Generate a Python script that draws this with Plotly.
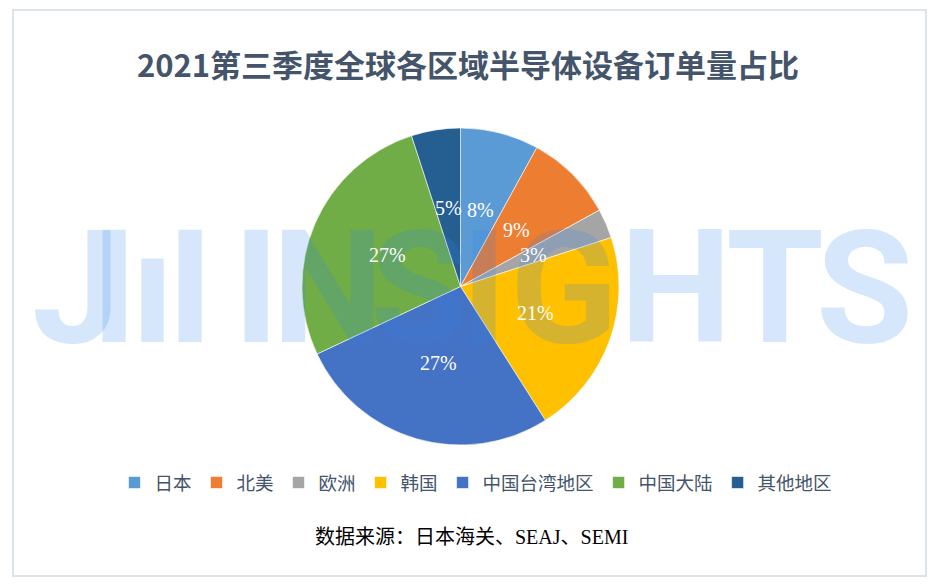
import math
import plotly.graph_objects as go

# données du graphique
regions = ["日本", "北美", "欧洲", "韩国", "中国台湾地区", "中国大陆", "其他地区"]
parts = [8, 9, 3, 21, 27, 27, 5]
couleurs = ["#5B9BD5", "#ED7D31", "#A5A5A5", "#FFC000", "#4472C4", "#70AD47", "#255E91"]

titre = "2021第三季度全球各区域半导体设备订单量占比"
source = "数据来源：日本海关、SEAJ、SEMI"

# filigrane "JW INSIGHTS" (lettre, centre x en px)
filigrane = [("J", 76), ("I", 114), ("ı", 152), ("I", 190),
             ("I", 256), ("N", 327), ("S", 418), ("I", 484),
             ("G", 564), ("H", 676), ("T", 775), ("S", 864)]

# la page html a une marge de 8px autour de la figure
OFF = 8
W, H = 939 - OFF, 587 - OFF


def fx(px):
    return (px - OFF) / W


def fy(py):
    return 1 - (py - OFF) / H


dom_x = [fx(302), fx(619)]
dom_y = [fy(445), fy(128)]

fig = go.Figure(go.Pie(
    labels=regions,
    values=parts,
    marker=dict(colors=couleurs, line=dict(color="white", width=0.6)),
    sort=False,
    direction="clockwise",
    rotation=0,
    textinfo="none",
    hoverinfo="label+percent",
    domain=dict(x=dom_x, y=dom_y),
))

annots = []
for lettre, xp in filigrane:
    annots.append(dict(
        text=lettre, x=fx(xp), y=fy(288), xref="paper", yref="paper",
        xanchor="center", yanchor="middle", showarrow=False,
        font=dict(family="Roboto", size=158, color="rgba(50,130,235,0.2)", weight="bold"),
    ))

# étiquettes à mi-rayon comme dans Excel
cx = (dom_x[0] + dom_x[1]) / 2 * W
cy = (1 - (dom_y[0] + dom_y[1]) / 2) * H
R = min((dom_x[1] - dom_x[0]) * W, (dom_y[1] - dom_y[0]) * H) / 2
total = sum(parts)
cumul = 0
for v in parts:
    theta = 2 * math.pi * (cumul + v / 2) / total
    cumul += v
    px = cx + 0.5 * R * math.sin(theta)
    py = cy - 0.5 * R * math.cos(theta)
    annots.append(dict(
        text=f"{round(100 * v / total)}%", x=px / W, y=1 - py / H,
        xref="paper", yref="paper", xanchor="center", yanchor="middle",
        showarrow=False,
        font=dict(family="Liberation Serif", size=20, color="white"),
    ))

annots.append(dict(
    text=source, x=fx(471), y=fy(537), xref="paper", yref="paper",
    xanchor="center", yanchor="middle", showarrow=False,
    font=dict(family="Liberation Serif, Noto Sans CJK SC", size=20, color="black"),
))

fig.update_layout(
    width=W, height=H,
    margin=dict(l=0, r=0, t=0, b=0),
    paper_bgcolor="white",
    title=dict(
        text=titre, x=fx(468), xanchor="center", y=fy(66), yanchor="middle",
        font=dict(family="Noto Sans CJK SC", size=31, color="#44546A", weight="bold"),
    ),
    legend=dict(
        orientation="h", x=fx(476), xanchor="center", y=fy(483), yanchor="middle",
        font=dict(family="Noto Sans CJK SC", size=18.5, color="#44546A"),
        traceorder="normal",
    ),
    annotations=annots,
    shapes=[dict(
        type="rect", xref="paper", yref="paper",
        x0=fx(13), x1=fx(926), y0=fy(576), y1=fy(10),
        line=dict(color="#DDE3EA", width=2),
    )],
)

fig.write_html("out.html")
